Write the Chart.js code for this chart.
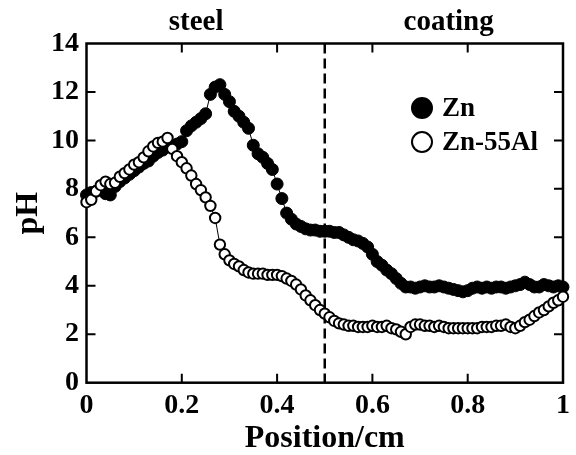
<!DOCTYPE html>
<html>
<head>
<meta charset="utf-8">
<title>pH profile across steel / coating</title>
<script src="https://cdn.jsdelivr.net/npm/chart.js@4"></script>
<style>
  html, body { margin: 0; padding: 0; background: #fff; }
  #wrap { width: 576px; height: 455px; }
</style>
</head>
<body>
<div id="wrap"><canvas id="phChart"></canvas></div>
<script>
// position along the specimen (cm)
const position = [
  0.00, 0.01, 0.02, 0.03, 0.04, 0.05, 0.06, 0.07, 0.08, 0.09,
  0.10, 0.11, 0.12, 0.13, 0.14, 0.15, 0.16, 0.17, 0.18, 0.19,
  0.20, 0.21, 0.22, 0.23, 0.24, 0.25, 0.26, 0.27, 0.28, 0.29,
  0.30, 0.31, 0.32, 0.33, 0.34, 0.35, 0.36, 0.37, 0.38, 0.39,
  0.40, 0.41, 0.42, 0.43, 0.44, 0.45, 0.46, 0.47, 0.48, 0.49,
  0.50, 0.51, 0.52, 0.53, 0.54, 0.55, 0.56, 0.57, 0.58, 0.59,
  0.60, 0.61, 0.62, 0.63, 0.64, 0.65, 0.66, 0.67, 0.68, 0.69,
  0.70, 0.71, 0.72, 0.73, 0.74, 0.75, 0.76, 0.77, 0.78, 0.79,
  0.80, 0.81, 0.82, 0.83, 0.84, 0.85, 0.86, 0.87, 0.88, 0.89,
  0.90, 0.91, 0.92, 0.93, 0.94, 0.95, 0.96, 0.97, 0.98, 0.99,
  1.00
];

// pH, Zn coating (filled markers)
const phZn = [
  7.75, 7.85, 7.90, 8.00, 7.80, 7.75, 8.10, 8.30, 8.45, 8.60,
  8.75, 8.90, 9.05, 9.15, 9.35, 9.50, 9.60, 9.75, 9.80, 9.85,
  9.95, 10.40, 10.60, 10.75, 10.90, 11.10, 11.90, 12.20, 12.30, 11.90,
  11.60, 11.20, 11.00, 10.75, 10.50, 9.80, 9.45, 9.30, 9.05, 8.80,
  8.20, 7.60, 7.00, 6.75, 6.55, 6.45, 6.35, 6.30, 6.30, 6.25,
  6.25, 6.25, 6.20, 6.20, 6.10, 6.00, 5.90, 5.85, 5.75, 5.60,
  5.30, 5.00, 4.85, 4.65, 4.50, 4.30, 4.10, 3.95, 3.95, 3.90,
  3.95, 4.00, 3.95, 3.95, 4.00, 3.95, 3.90, 3.85, 3.80, 3.75,
  3.80, 3.90, 3.95, 3.90, 3.95, 3.90, 3.95, 3.95, 3.90, 3.95,
  4.00, 4.05, 4.15, 4.05, 3.95, 3.95, 4.05, 4.00, 3.95, 4.00,
  3.95
];

// pH, Zn-55Al coating (open markers)
const phZnAl = [
  7.45, 7.55, 7.90, 8.15, 8.30, 8.20, 8.25, 8.50, 8.65, 8.80,
  9.00, 9.10, 9.30, 9.55, 9.75, 9.90, 9.95, 10.10, 9.65, 9.35,
  9.10, 8.85, 8.55, 8.20, 7.95, 7.65, 7.30, 6.80, 5.70, 5.30,
  5.05, 4.90, 4.80, 4.65, 4.55, 4.50, 4.50, 4.50, 4.45, 4.45,
  4.45, 4.40, 4.30, 4.20, 4.05, 3.85, 3.60, 3.40, 3.20, 3.00,
  2.85, 2.70, 2.55, 2.45, 2.40, 2.35, 2.35, 2.30, 2.30, 2.30,
  2.35, 2.30, 2.30, 2.35, 2.25, 2.20, 2.10, 2.00, 2.30, 2.40,
  2.40, 2.35, 2.35, 2.30, 2.35, 2.30, 2.25, 2.25, 2.25, 2.25,
  2.25, 2.25, 2.25, 2.30, 2.30, 2.30, 2.35, 2.35, 2.40, 2.30,
  2.25, 2.35, 2.50, 2.60, 2.75, 2.90, 3.00, 3.15, 3.30, 3.40,
  3.55
];

const seriesNames = ['Zn', 'Zn-55Al'];
const xTickValues = [0, 0.2, 0.4, 0.6, 0.8, 1];
const xTickLabels = ['0', '0.2', '0.4', '0.6', '0.8', '1'];
const yTickValues = [0, 2, 4, 6, 8, 10, 12, 14];
const boundaryPos = 0.5;               // steel / coating interface
const regionNames = ['steel', 'coating'];
const regionCenters = [0.23, 0.76];

const serif = "'Liberation Serif', 'Times New Roman', serif";
Chart.defaults.font.family = serif;
Chart.defaults.font.weight = 'bold';
Chart.defaults.color = '#000';

function toPoints(ys) {
  return position.map((p, i) => ({ x: p, y: ys[i] }));
}

// box frame, inward ticks, dashed interface line, labels + legend
const framePlugin = {
  id: 'frame',
  beforeDatasetsDraw(chart) {
    const { ctx, chartArea: a, scales: { x, y } } = chart;
    ctx.save();
    ctx.strokeStyle = '#000';
    ctx.lineWidth = 2.5;
    ctx.strokeRect(a.left, a.top, a.right - a.left, a.bottom - a.top);

    ctx.lineWidth = 2;
    ctx.beginPath();
    xTickValues.slice(1, -1).forEach(v => {
      const px = x.getPixelForValue(v);
      ctx.moveTo(px, a.bottom); ctx.lineTo(px, a.bottom - 9);
      ctx.moveTo(px, a.top); ctx.lineTo(px, a.top + 9);
    });
    yTickValues.slice(1, -1).forEach(v => {
      const py = y.getPixelForValue(v);
      ctx.moveTo(a.left, py); ctx.lineTo(a.left + 9, py);
      ctx.moveTo(a.right, py); ctx.lineTo(a.right - 9, py);
    });
    ctx.stroke();

    const bx = x.getPixelForValue(boundaryPos);
    ctx.setLineDash([10, 5]);
    ctx.lineWidth = 2.5;
    ctx.beginPath();
    ctx.moveTo(bx, a.top);
    ctx.lineTo(bx, a.bottom);
    ctx.stroke();
    ctx.restore();
  },
  afterDraw(chart) {
    const { ctx, chartArea: a, scales: { x } } = chart;
    ctx.save();
    ctx.fillStyle = '#000';
    ctx.font = 'bold 29px ' + serif;
    ctx.textAlign = 'center';
    ctx.textBaseline = 'alphabetic';
    regionNames.forEach((t, i) => {
      ctx.fillText(t, x.getPixelForValue(regionCenters[i]), a.top - 14);
    });

    // legend
    const lx = 422, ly = [108, 142];
    ctx.font = 'bold 27px ' + serif;
    ctx.textAlign = 'left';
    ctx.textBaseline = 'middle';
    chart.data.datasets.forEach((ds, i) => {
      ctx.beginPath();
      ctx.arc(lx, ly[i], 10, 0, Math.PI * 2);
      ctx.fillStyle = ds.pointBackgroundColor;
      ctx.fill();
      ctx.lineWidth = 2;
      ctx.strokeStyle = '#000';
      ctx.stroke();
      ctx.fillStyle = '#000';
      ctx.fillText(ds.label, lx + 20, ly[i] + 1);
    });
    ctx.restore();
  }
};

new Chart(document.getElementById('phChart'), {
  type: 'scatter',
  data: {
    datasets: [
      {
        label: seriesNames[0],
        data: toPoints(phZn),
        showLine: true,
        borderColor: '#000',
        borderWidth: 1,
        pointRadius: 6,
        pointBackgroundColor: '#000',
        pointBorderColor: '#000',
        pointBorderWidth: 1,
        clip: false,
        order: 2
      },
      {
        label: seriesNames[1],
        data: toPoints(phZnAl),
        showLine: true,
        borderColor: '#000',
        borderWidth: 1,
        pointRadius: 5.2,
        pointBackgroundColor: '#fff',
        pointBorderColor: '#000',
        pointBorderWidth: 2,
        clip: false,
        order: 1
      }
    ]
  },
  options: {
    animation: false,
    responsive: true,
    maintainAspectRatio: false,
    devicePixelRatio: 1,
    layout: { padding: { top: 43.5, right: 7, left: 0, bottom: 0 } },
    plugins: { legend: { display: false }, tooltip: { enabled: false } },
    scales: {
      x: {
        type: 'linear',
        min: 0,
        max: 1,
        afterBuildTicks: s => { s.ticks = xTickValues.map(v => ({ value: v })); },
        afterFit: s => { s.height = 72.3; },
        grid: { display: false, drawTicks: false },
        border: { display: false },
        ticks: {
          callback: (v, i) => xTickLabels[i],
          font: { size: 28, weight: 'bold' },
          padding: 6,
          maxRotation: 0,
          autoSkip: false
        },
        title: {
          display: true,
          text: 'Position/cm',
          font: { size: 32, weight: 'bold', lineHeight: 1 },
          padding: { top: 1.5, bottom: 0 }
        }
      },
      y: {
        min: 0,
        max: 14,
        afterBuildTicks: s => { s.ticks = yTickValues.map(v => ({ value: v })); },
        afterFit: s => { s.width = 86.5; },
        grid: { display: false, drawTicks: false },
        border: { display: false },
        ticks: {
          font: { size: 28, weight: 'bold' },
          padding: 7.5
        },
        title: {
          display: true,
          text: 'pH',
          font: { size: 32, weight: 'bold' },
          padding: { top: 10, bottom: 0 }
        }
      }
    }
  },
  plugins: [framePlugin]
});
</script>
</body>
</html>
